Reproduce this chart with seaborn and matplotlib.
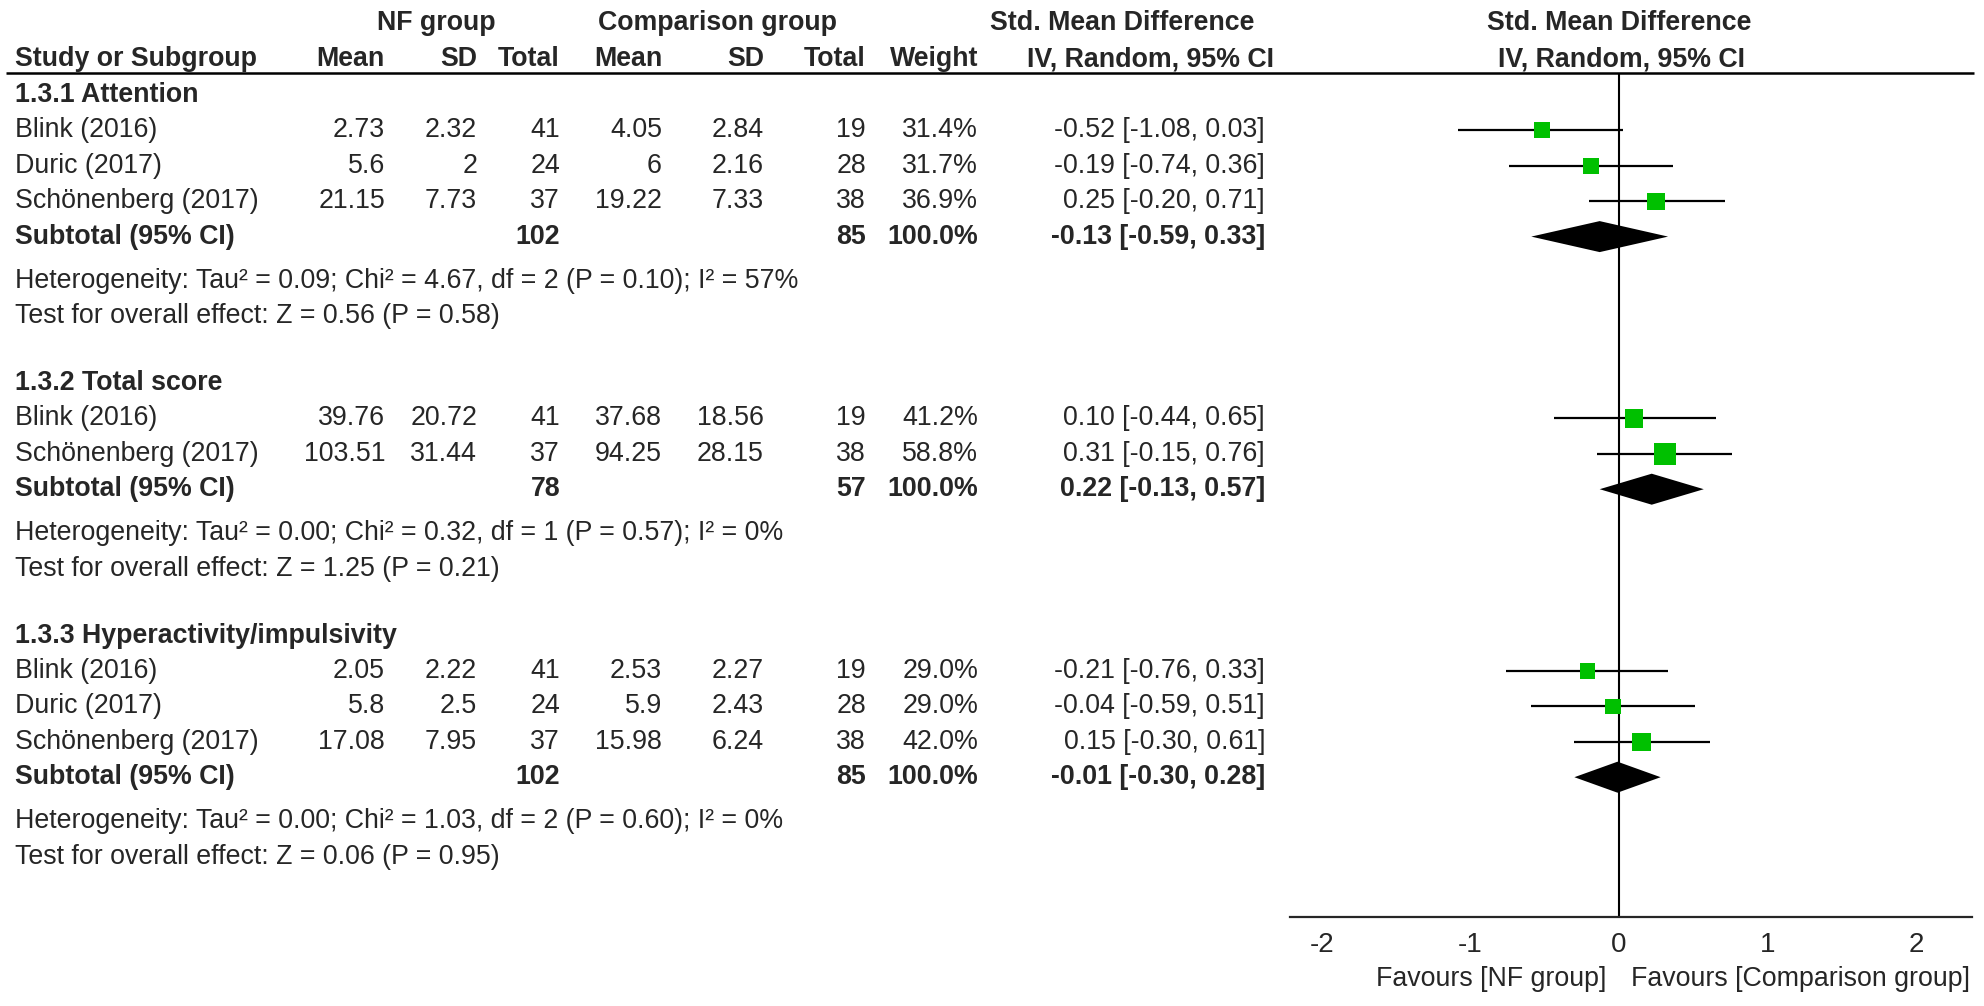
import matplotlib
matplotlib.use('Agg')
import matplotlib.pyplot as plt
import seaborn as sns
import pandas as pd

# data
subgroups = ['1.3.1 Attention', '1.3.2 Total score', '1.3.3 Hyperactivity/impulsivity']
study_names = ['Blink (2016)', 'Duric (2017)', 'Schönenberg (2017)',
               'Blink (2016)', 'Schönenberg (2017)',
               'Blink (2016)', 'Duric (2017)', 'Schönenberg (2017)']
study_group = [0, 0, 0, 1, 1, 2, 2, 2]
nf_mean = ['2.73', '5.6', '21.15', '39.76', '103.51', '2.05', '5.8', '17.08']
nf_sd = ['2.32', '2', '7.73', '20.72', '31.44', '2.22', '2.5', '7.95']
nf_n = [41, 24, 37, 41, 37, 41, 24, 37]
cmp_mean = ['4.05', '6', '19.22', '37.68', '94.25', '2.53', '5.9', '15.98']
cmp_sd = ['2.84', '2.16', '7.33', '18.56', '28.15', '2.27', '2.43', '6.24']
cmp_n = [19, 28, 38, 19, 38, 19, 28, 38]
weight = [31.4, 31.7, 36.9, 41.2, 58.8, 29.0, 29.0, 42.0]
smd = [-0.52, -0.19, 0.25, 0.10, 0.31, -0.21, -0.04, 0.15]
ci_lo = [-1.08, -0.74, -0.20, -0.44, -0.15, -0.76, -0.59, -0.30]
ci_hi = [0.03, 0.36, 0.71, 0.65, 0.76, 0.33, 0.51, 0.61]

sub_nf_n = [102, 78, 102]
sub_cmp_n = [85, 57, 85]
sub_smd = [-0.13, 0.22, -0.01]
sub_lo = [-0.59, -0.13, -0.30]
sub_hi = [0.33, 0.57, 0.28]
heterogeneity = ['Heterogeneity: Tau² = 0.09; Chi² = 4.67, df = 2 (P = 0.10); I² = 57%',
                 'Heterogeneity: Tau² = 0.00; Chi² = 0.32, df = 1 (P = 0.57); I² = 0%',
                 'Heterogeneity: Tau² = 0.00; Chi² = 1.03, df = 2 (P = 0.60); I² = 0%']
overall = ['Test for overall effect: Z = 0.56 (P = 0.58)',
           'Test for overall effect: Z = 1.25 (P = 0.21)',
           'Test for overall effect: Z = 0.06 (P = 0.95)']
x_ticks = [-2, -1, 0, 1, 2]

sns.set_style('white')
plt.rcParams['font.family'] = ['Liberation Sans', 'DejaVu Sans']
FS = 19.3
W, H = 1984, 1006

# row layout (pixels from top)
step, het_gap, grp_gap = 35.4, 44, 67
y = 95
study_y = [0] * len(study_names)
sub_y, het_y, test_y, head_y = [], [], [], []
for g in range(len(subgroups)):
    head_y.append(y)
    for i, grp in enumerate(study_group):
        if grp == g:
            y += step
            study_y[i] = y
    y += step
    sub_y.append(y)
    y += het_gap
    het_y.append(y)
    y += step
    test_y.append(y)
    y += grp_gap

fig = plt.figure(figsize=(W / 100, H / 100), dpi=100)
tab = fig.add_axes([0, 0, 1, 1])
tab.set_xlim(0, W)
tab.set_ylim(H, 0)
tab.axis('off')

# forest panel geometry
x0_px, unit_px = 1619, 148.7
left_px, right_px = 1290, 1972
ax = fig.add_axes([left_px / W, 0, (right_px - left_px) / W, 1])
ax.set_xlim((left_px - x0_px) / unit_px, (right_px - x0_px) / unit_px)
ax.set_ylim(H, 0)
ax.patch.set_alpha(0)

# columns (right edges)
c_label = 15
c_nfm, c_nfsd, c_nfn = 385, 477, 560
c_cm, c_csd, c_cn = 662, 764, 866
c_w, c_ci = 978, 1265

# headers
bold = dict(va='center', fontsize=FS, fontweight='bold')
tab.text(436, 23, 'NF group', ha='center', **bold)
tab.text(717, 23, 'Comparison group', ha='center', **bold)
tab.text(1122, 23, 'Std. Mean Difference', ha='center', **bold)
tab.text(1619, 23, 'Std. Mean Difference', ha='center', **bold)
tab.text(c_label, 59, 'Study or Subgroup', ha='left', **bold)
for cx, lab in [(c_nfm, 'Mean'), (c_nfsd, 'SD'), (c_nfn, 'Total'), (c_cm, 'Mean'),
                (c_csd, 'SD'), (c_cn, 'Total'), (c_w, 'Weight'), (1274, 'IV, Random, 95% CI')]:
    tab.text(cx, 59, lab, ha='right', **bold)
tab.text(1622, 59, 'IV, Random, 95% CI', ha='center', **bold)
tab.plot([6, 1974], [73, 73], color='black', lw=1.8, solid_capstyle='butt')

# table body
for g, name in enumerate(subgroups):
    tab.text(c_label, head_y[g], name, ha='left', **bold)
for i, name in enumerate(study_names):
    yy = study_y[i]
    tab.text(c_label, yy, name, ha='left', va='center', fontsize=FS)
    vals = [(c_nfm, nf_mean[i]), (c_nfsd, nf_sd[i]), (c_nfn, str(nf_n[i])),
            (c_cm, cmp_mean[i]), (c_csd, cmp_sd[i]), (c_cn, str(cmp_n[i])),
            (c_w, f'{weight[i]:.1f}%'),
            (c_ci, f'{smd[i]:.2f} [{ci_lo[i]:.2f}, {ci_hi[i]:.2f}]')]
    for cx, s in vals:
        tab.text(cx, yy, s, ha='right', va='center', fontsize=FS)
for g in range(len(subgroups)):
    yy = sub_y[g]
    tab.text(c_label, yy, 'Subtotal (95% CI)', ha='left', **bold)
    for cx, s in [(c_nfn, str(sub_nf_n[g])), (c_cn, str(sub_cmp_n[g])), (c_w, '100.0%'),
                  (c_ci, f'{sub_smd[g]:.2f} [{sub_lo[g]:.2f}, {sub_hi[g]:.2f}]')]:
        tab.text(cx, yy, s, ha='right', **bold)
    tab.text(c_label, het_y[g], heterogeneity[g], ha='left', va='center', fontsize=FS)
    tab.text(c_label, test_y[g], overall[g], ha='left', va='center', fontsize=FS)

# forest plot
df = pd.DataFrame({'smd': smd, 'lo': ci_lo, 'hi': ci_hi, 'w': weight, 'y': study_y})
ax.vlines(0, 73, 917, color='black', lw=1.5)
ax.hlines(df['y'], df['lo'], df['hi'], color='black', lw=1.6, zorder=2)
sns.scatterplot(data=df, x='smd', y='y', size='w', sizes=(15.4 ** 2 * 0.52, 21.9 ** 2 * 0.52),
                size_norm=(29.0, 58.8), marker='s', color='#00C000', edgecolor='none',
                legend=False, ax=ax, zorder=3)
half_h = 15.5
for g in range(len(subgroups)):
    yy = sub_y[g]
    ax.fill([sub_lo[g], sub_smd[g], sub_hi[g], sub_smd[g]],
            [yy, yy - half_h, yy, yy + half_h], color='black', lw=0, zorder=3)

for s in ['left', 'right', 'top']:
    ax.spines[s].set_visible(False)
ax.spines['bottom'].set_position(('data', 917))
ax.spines['bottom'].set_linewidth(1.6)
ax.set_xticks(x_ticks)
ax.set_xticklabels([str(t) for t in x_ticks])
ax.tick_params(axis='x', direction='inout', length=12, width=1.3, labelsize=20, pad=5)
ax.set_yticks([])
ax.set_xlabel('')
ax.set_ylabel('')

tab.text(x0_px - 13, 979, 'Favours [NF group]', ha='right', va='center', fontsize=19.3)
tab.text(x0_px + 12, 979, 'Favours [Comparison group]', ha='left', va='center', fontsize=19.3)

fig.savefig('out.png', dpi=100)
